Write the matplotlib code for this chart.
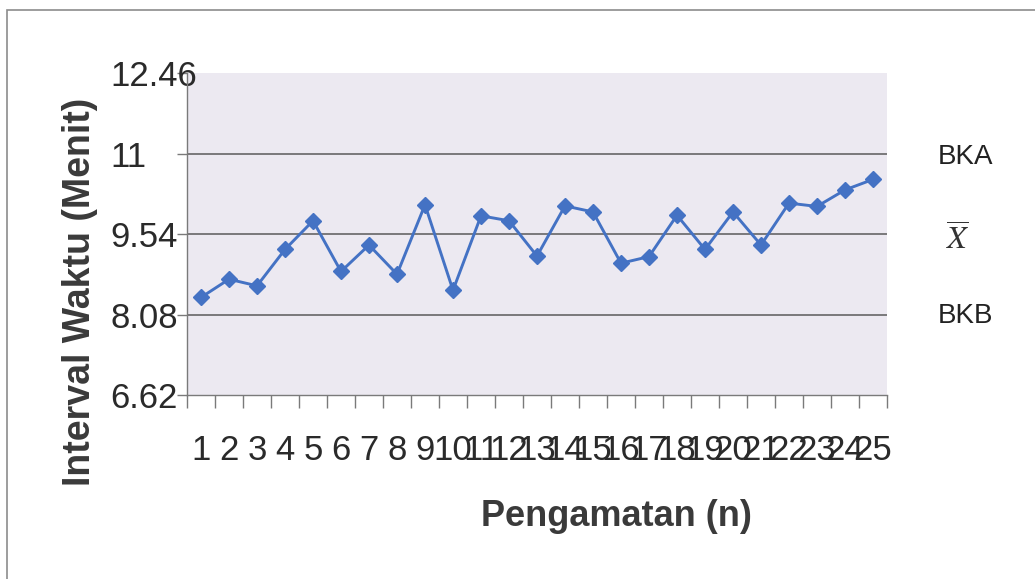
import matplotlib
matplotlib.use("Agg")
import matplotlib.pyplot as plt
from matplotlib.patches import Rectangle

# Data
observations = list(range(1, 26))
interval = [8.39, 8.72, 8.60, 9.26, 9.78, 8.86, 9.34, 8.81, 10.07, 8.52,
            9.87, 9.78, 9.14, 10.05, 9.94, 9.01, 9.13, 9.88, 9.26, 9.94,
            9.34, 10.10, 10.04, 10.34, 10.53]
y_ticks = [6.62, 8.08, 9.54, 11, 12.46]
y_tick_labels = ["6.62", "8.08", "9.54", "11", "12.46"]
control_lines = [8.08, 9.54, 11]
right_labels = ["BKB", r"$\overline{X}$", "BKA"]

plt.rcParams['font.family'] = ['Liberation Sans', 'DejaVu Sans']
plt.rcParams['mathtext.fontset'] = 'stix'

W, H = 1035, 579
fig = plt.figure(figsize=(W / 100, H / 100), dpi=100)
fig.patch.set_facecolor('white')

# outer chart border (only left and top visible)
fig.add_artist(Rectangle((7 / W, -0.1), 1.2, (1 - 10 / H) + 0.1,
                         transform=fig.transFigure, fill=False,
                         edgecolor='#8c8c8c', linewidth=1.2))

left, right, top, bottom = 187, 887, 73, 395
ax = fig.add_axes([left / W, 1 - bottom / H, (right - left) / W, (bottom - top) / H])
ax.set_facecolor('#ECE9F1')

x = list(range(len(observations)))
for v in control_lines:
    ax.axhline(v, color='#666666', linewidth=1.2, zorder=1)

ax.plot(x, interval, color='#4472C4', linewidth=2.1, marker='D',
        markersize=8.5, markerfacecolor='#4472C4', markeredgecolor='#4472C4', zorder=3)

ax.set_xlim(-0.5, len(observations) - 0.5)
ax.set_ylim(6.62, 12.46)

for s in ['top', 'right']:
    ax.spines[s].set_visible(False)
for s in ['left', 'bottom']:
    ax.spines[s].set_color('#7a7a7a')
    ax.spines[s].set_linewidth(1.0)

ax.set_yticks(y_ticks)
ax.set_yticklabels(y_tick_labels)
ax.tick_params(axis='y', length=7, width=1, color='#7a7a7a', pad=48,
               labelsize=25, labelcolor='#2a2a2a')
for lab in ax.get_yticklabels():
    lab.set_horizontalalignment('left')

# x: ticks at category boundaries, labels at centres
ax.set_xticks([i - 0.5 for i in range(len(observations) + 1)])
ax.set_xticklabels([])
ax.set_xticks(x, minor=True)
ax.set_xticklabels([str(o) for o in observations], minor=True)
ax.tick_params(axis='x', which='major', length=9, width=1, color='#7a7a7a')
ax.tick_params(axis='x', which='minor', length=0, pad=28,
               labelsize=25, labelcolor='#2a2a2a')

fig.text(616 / W, 1 - 517 / H, "Pengamatan (n)", ha='center', va='center',
         fontsize=26, fontweight='bold', color='#3a3a3a')
fig.text(80 / W, 1 - 292 / H, "Interval Waktu (Menit)", ha='center', va='center',
         rotation=90, fontsize=27, fontweight='bold', color='#3a3a3a')

right_y = [316, 240, 157]
for lab, yy in zip(right_labels, right_y):
    if lab.startswith('$'):
        fig.text(946 / W, 1 - yy / H, lab, ha='left', va='center',
                 fontsize=23, color='#333333')
    else:
        fig.text(938 / W, 1 - yy / H, lab, ha='left', va='center',
                 fontsize=20, color='#222222')

fig.savefig('out.png', dpi=100, facecolor='white')
